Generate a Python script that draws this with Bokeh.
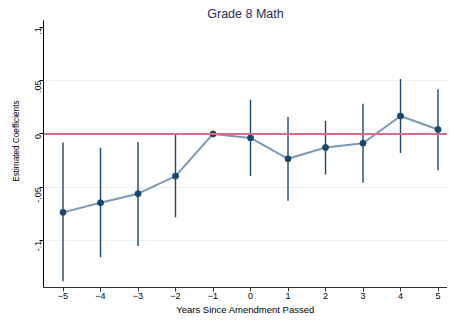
from bokeh.plotting import figure
from bokeh.models import FixedTicker, Span, ColumnDataSource, Title
from bokeh.embed import file_html
from bokeh.resources import INLINE
import math

years = [-5, -4, -3, -2, -1, 0, 1, 2, 3, 4, 5]
coef = [-0.0735, -0.0645, -0.056, -0.0395, 0.0, -0.0037, -0.0233, -0.0127, -0.0087, 0.0168, 0.0041]
ci_low = [-0.138, -0.1155, -0.105, -0.078, 0.0, -0.0395, -0.0626, -0.038, -0.0458, -0.0178, -0.034]
ci_high = [-0.008, -0.013, -0.0075, -0.0006, 0.0, 0.032, 0.0159, 0.0121, 0.0284, 0.0514, 0.0418]
x_ticks = [-5, -4, -3, -2, -1, 0, 1, 2, 3, 4, 5]
y_ticks = [-0.1, -0.05, 0.0, 0.05, 0.1]
y_tick_labels = ["-.1", "-.05", "0", ".05", ".1"]

FONT = "Liberation Sans"
NAVY = "#1a476f"

X0, X1 = -5.52, 5.253
p = figure(width=447, height=317, output_backend="svg", toolbar_location=None,
           x_range=(X0, X1), y_range=(-0.1439, 0.1063),
           title="Grade 8 Math",
           min_border_left=43, min_border_right=0, min_border_top=20, min_border_bottom=29)
p.outline_line_color = None
p.background_fill_color = "white"
p.border_fill_color = "white"

p.title.align = "center"
p.title.text_font = FONT
p.title.text_font_size = "12.5px"
p.title.text_font_style = "normal"
p.title.text_color = "#1e2d53"
p.title.offset = 0
p.title.standoff = 0

# axes
p.xaxis.ticker = FixedTicker(ticks=x_ticks)
p.xaxis.axis_label = "Years Since Amendment Passed"
p.yaxis.ticker = FixedTicker(ticks=y_ticks)
p.yaxis.major_label_overrides = {t: l for t, l in zip(y_ticks, y_tick_labels)}
p.yaxis.major_label_orientation = math.pi / 2
for ax in (p.xaxis[0], p.yaxis[0]):
    ax.axis_label_text_font = FONT
    ax.axis_label_text_font_size = "9.5px"
    ax.axis_label_text_font_style = "normal"
    ax.axis_label_text_color = "#000000"
    ax.major_label_text_font = FONT
    ax.major_label_text_font_size = "9px"
    ax.major_label_text_color = "#000000"
    ax.major_tick_out = 4
    ax.major_tick_in = 0
    ax.minor_tick_out = 0
    ax.minor_tick_in = 0
    ax.major_label_standoff = 1
p.xaxis.axis_label_standoff = 2
p.xaxis.axis_line_color = "#333333"
p.xaxis.major_tick_line_color = "#333333"
p.yaxis.axis_line_color = "#000000"
p.yaxis.major_tick_line_color = "#000000"

p.xgrid.visible = False
p.ygrid.ticker = FixedTicker(ticks=[-0.1, -0.05, 0.05])
p.ygrid.grid_line_color = "#eaf2f3"
p.ygrid.grid_line_width = 1.2

# y-axis title as a side title, shifted along the axis like the original
ytitle = Title(text="Estimated Coefficients", align="right", offset=80, standoff=18,
               text_font=FONT, text_font_size="8.2px", text_font_style="normal",
               text_color="#000000")
p.add_layout(ytitle, "left")

src = ColumnDataSource(dict(x=years, y=coef, lo=ci_low, hi=ci_high))

# reference line at zero
p.add_layout(Span(location=0, dimension="width", line_color="#d66e87", line_width=2))

# confidence intervals
p.segment(x0="x", y0="lo", x1="x", y1="hi", source=src, line_color=NAVY, line_width=1.4)

# connecting line
p.line(x="x", y="y", source=src, line_color="#7d98b3", line_width=2)

# point estimates
p.scatter(x="x", y="y", source=src, size=6, fill_color=NAVY, line_color=NAVY)

open("out.html", "w").write(file_html(p, INLINE))
